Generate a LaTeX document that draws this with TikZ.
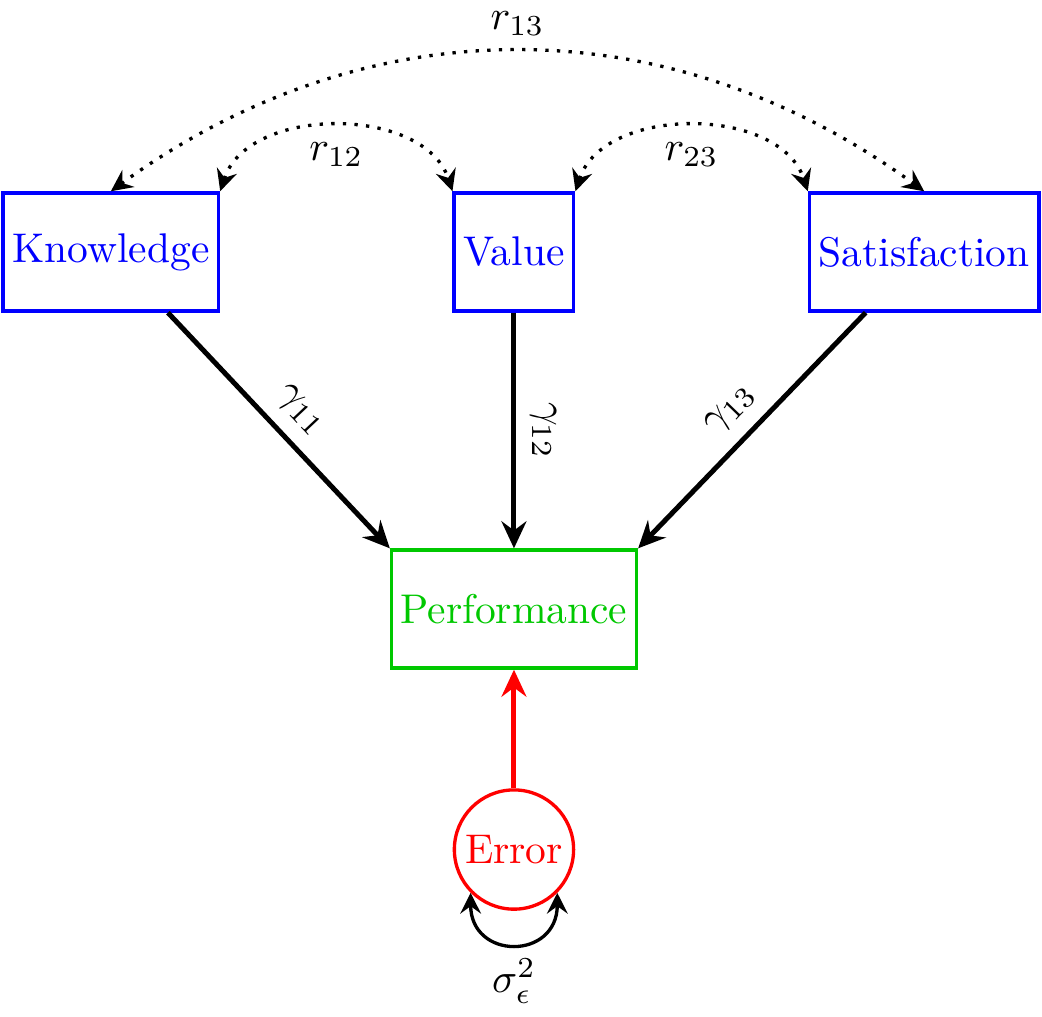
\documentclass[tikz,border=0pt]{standalone}
\usetikzlibrary{arrows.meta}
\definecolor{perfgreen}{RGB}{0,200,0}
\begin{document}
\begin{tikzpicture}[
  var/.style={draw=blue, thick, text=blue, minimum width=1cm, minimum height=1cm, inner sep=2.2pt},
  outcome/.style={draw=perfgreen, thick, text=perfgreen, minimum width=1cm, minimum height=1cm, inner sep=2.2pt},
  errnode/.style={draw=red, thick, text=red, circle, minimum size=1.01cm, inner sep=0pt},
  pathline/.style={very thick, -{Stealth[length=6.5pt,width=6pt,inset=2.2pt]}},
  smalltip/.style={Stealth[length=5.2pt,width=5pt,inset=1.8pt]},
  corr/.style={thick, dotted, {Stealth[length=5.2pt,width=5pt,inset=1.8pt]}-{Stealth[length=5.2pt,width=5pt,inset=1.8pt]}},
  selfvar/.style={thick, {Stealth[length=5pt,width=5pt,inset=1.8pt]}-{Stealth[length=5pt,width=5pt,inset=1.8pt]}}
]
\useasboundingbox (0,0) rectangle (8.825,-8.605);
\node[var, anchor=west] (K) at (0.0127,-2.134) {Knowledge};
\node[var] (V) at (4.353,-2.134) {Value};
\node[var, anchor=east] (S) at (8.813,-2.134) {Satisfaction};
\node[outcome] (P) at (4.353,-5.158) {Performance};
\node[errnode] (E) at (4.353,-7.195) {Error};

\draw[pathline] (K) -- node[sloped, above] {$\gamma_{11}$} (P.north west);
\draw[pathline] (V) -- node[sloped, allow upside down, above] {$\gamma_{12}$} (P.north);
\draw[pathline] (S) -- node[sloped, above] {$\gamma_{13}$} (P.north east);
\draw[pathline, red] (E) -- (P.south);

\draw[corr] (K.north east) to[bend left=72] node[below] {$r_{12}$} (V.north west);
\draw[corr] (V.north east) to[bend left=72] node[below] {$r_{23}$} (S.north west);
\draw[corr] (K.north) to[bend left=36] node[above] {$r_{13}$} (S.north);
\draw[selfvar] (E.south west) to[out=-90, in=-90, looseness=2] node[below] {$\sigma^2_\epsilon$} (E.south east);
\end{tikzpicture}
\end{document}
